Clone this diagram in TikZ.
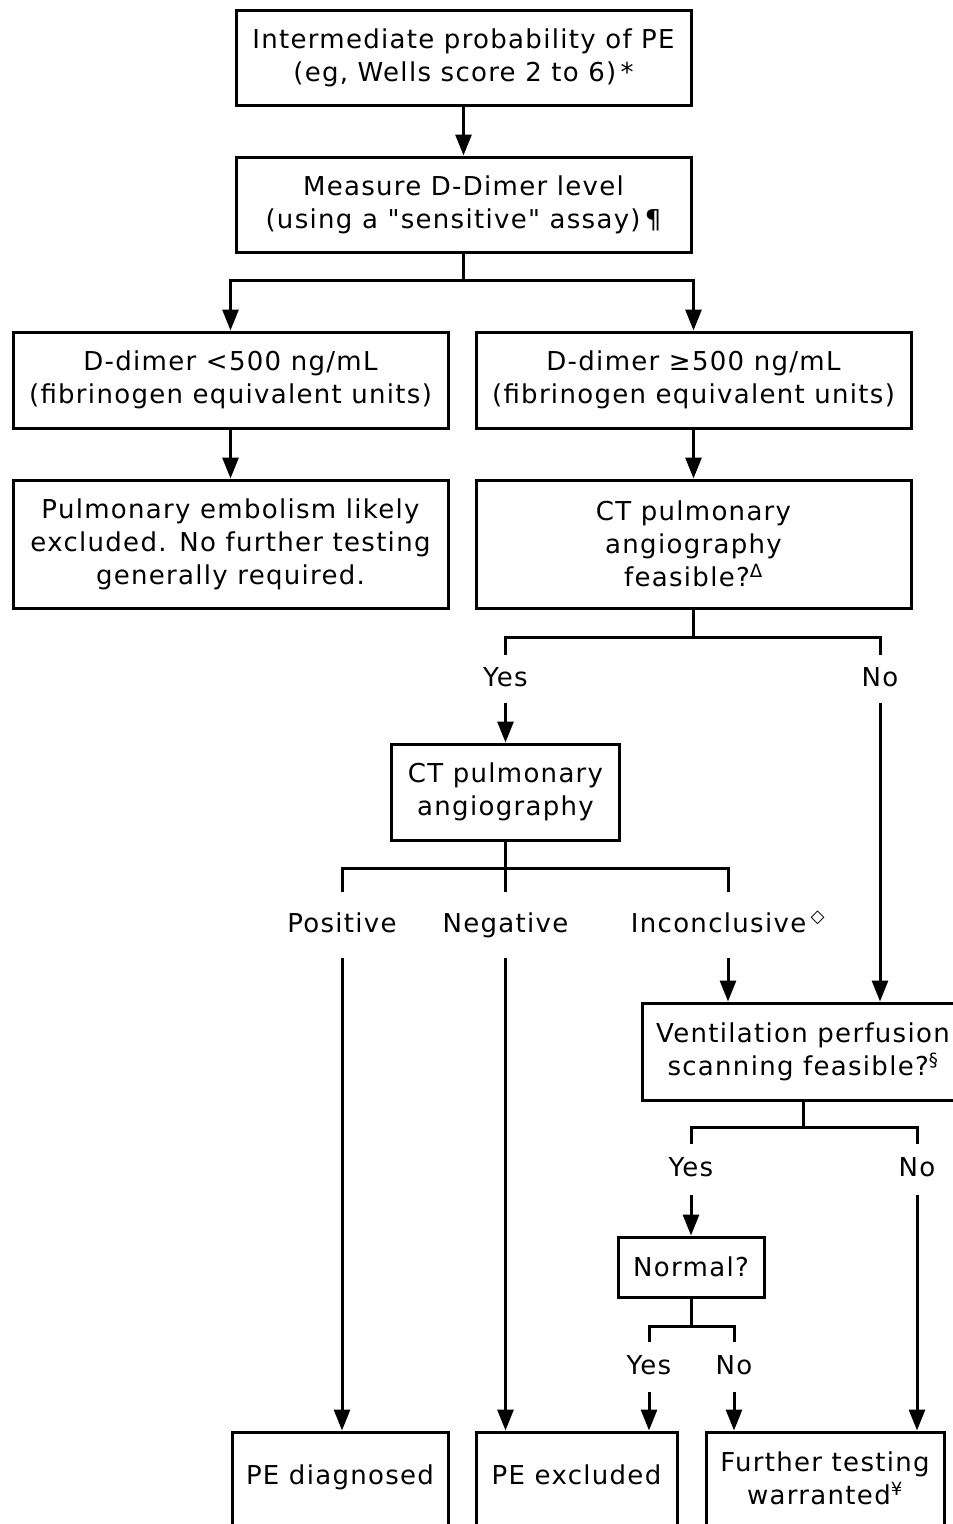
\documentclass[tikz,border=0pt]{standalone}
\usepackage{fontspec}
\setmainfont{DejaVu Sans}[LetterSpace=5, Ligatures=TeXOff]
\usetikzlibrary{arrows.meta}
\newcommand\diagfont{\fontsize{26}{33}\selectfont}
\begin{document}
\begin{tikzpicture}[x=1pt,y=-1pt,
  box/.style={draw, line width=3pt, align=center, inner sep=0pt, font=\diagfont},
  lab/.style={align=center, inner sep=0pt, font=\diagfont, text height=19pt, text depth=5pt},
  arr/.style={line width=3pt, -{Triangle[length=21pt,width=16pt]}},
  ln/.style={line width=3pt}]
\useasboundingbox (0,0) rectangle (953,1524);
\clip (0,0) rectangle (953,1524);
% boxes
\node[box, minimum width=455pt, minimum height=95pt] (top) at (463.5,57.5) {Intermediate probability of PE\\(eg, Wells score 2 to 6)\,*};
\node[box, minimum width=455pt, minimum height=95pt] (meas) at (463.5,204.5) {Measure D-Dimer level\\(using a "sensitive" assay)\,¶};
\node[box, minimum width=435pt, minimum height=96pt] (dlow) at (230.5,380) {D-dimer <500 ng/mL\\(fibrinogen equivalent units)};
\node[box, minimum width=435pt, minimum height=96pt] (dhigh) at (693.5,380) {D-dimer ≥500 ng/mL\\(fibrinogen equivalent units)};
\node[box, minimum width=435pt, minimum height=128pt] (excl) at (230.5,544) {Pulmonary embolism likely\\excluded. No further testing\\generally required.};
\node[box, minimum width=435pt, minimum height=128pt] (ctf) at (693.5,544) {CT pulmonary\\angiography\\feasible?\textsuperscript{Δ}};
\node[lab, minimum height=48pt] (y1) at (505.5,679) {Yes};
\node[lab, minimum height=48pt] (n1) at (880,679) {No};
\node[box, minimum width=228pt, minimum height=96pt] (cta) at (505.5,792) {CT pulmonary\\angiography};
\node[lab, minimum height=66pt] (pos) at (342,925) {Positive};
\node[lab, minimum height=66pt] (neg) at (505.5,925) {Negative};
\node[lab, minimum height=66pt] (inc) at (728,925) {Inconclusive\,\textsuperscript{◇}};
\node[box, minimum width=322pt, minimum height=97pt] (vq) at (803,1051.5) {Ventilation perfusion\\scanning feasible?\textsuperscript{§}};
\node[lab, minimum height=51pt] (y2) at (691,1169.5) {Yes};
\node[lab, minimum height=51pt] (n2) at (917,1169.5) {No};
\node[box, minimum width=146pt, minimum height=60pt] (norm) at (691,1267) {Normal?};
\node[lab, minimum height=50pt] (y3) at (649,1367) {Yes};
\node[lab, minimum height=50pt] (n3) at (734,1367) {No};
\node[box, minimum width=216pt, minimum height=98pt, text height=19pt, text depth=12pt] (diag) at (340,1481) {PE diagnosed};
\node[box, minimum width=201pt, minimum height=98pt, text height=19pt, text depth=12pt] (pex) at (576.5,1481) {PE excluded};
\node[box, minimum width=238pt, minimum height=98pt, text depth=6pt] (fur) at (825,1481) {Further testing\\warranted\textsuperscript{¥}};
% connectors
\draw[arr] (top) -- (meas);
\coordinate (j1) at (463.5,280);
\draw[ln] (meas.south) -- (j1);
\draw[arr] (j1) -| (dlow.north);
\draw[arr] (j1) -| (dhigh.north);
\draw[arr] (dlow) -- (excl);
\draw[arr] (dhigh) -- (ctf);
\coordinate (j2) at (693.5,637);
\draw[ln] (ctf.south) -- (j2);
\draw[ln] (j2) -| (y1.north);
\draw[ln] (j2) -| (n1.north);
\draw[arr] (y1.south) -- (y1.south |- cta.north);
\draw[arr] (n1.south) -- (n1.south |- vq.north);
\coordinate (j3) at (505.5,868);
\draw[ln] (cta.south) -- (j3);
\draw[ln] (j3) -| (pos.north);
\draw[ln] (j3) -| (neg.north);
\draw[ln] (j3) -| (inc.north);
\draw[arr] (pos.south) -- (pos.south |- diag.north);
\draw[arr] (neg.south) -- (neg.south |- pex.north);
\draw[arr] (inc.south) -- (inc.south |- vq.north);
\coordinate (j4) at (803,1127);
\draw[ln] (vq.south) -- (j4);
\draw[ln] (j4) -| (y2.north);
\draw[ln] (j4) -| (n2.north);
\draw[arr] (y2.south) -- (norm.north);
\draw[arr] (n2.south) -- (n2.south |- fur.north);
\coordinate (j5) at (691,1326);
\draw[ln] (norm.south) -- (j5);
\draw[ln] (j5) -| (y3.north);
\draw[ln] (j5) -| (n3.north);
\draw[arr] (y3.south) -- (y3.south |- pex.north);
\draw[arr] (n3.south) -- (n3.south |- fur.north);
\end{tikzpicture}
\end{document}
